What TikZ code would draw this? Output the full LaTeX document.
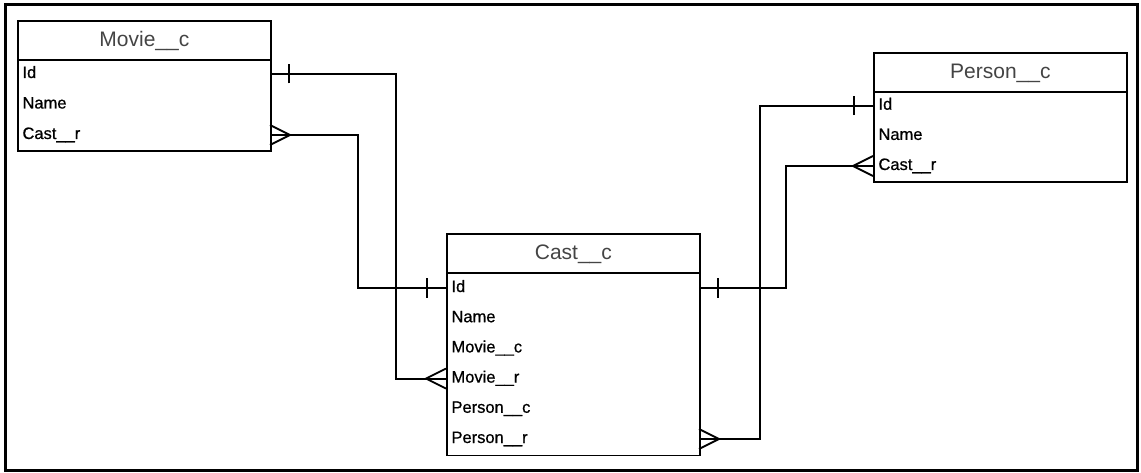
\documentclass[tikz,border=0pt]{standalone}
\usepackage{fontspec}
\setmainfont{Liberation Sans}
\newfontfamily\fieldfont[FakeBold=0.7]{Liberation Sans}
\usepackage{xcolor}
\definecolor{headgray}{HTML}{444444}

\begin{document}
\begin{tikzpicture}[x=1pt,y=-1pt,line width=1.8pt,
  tablehead/.style={draw,anchor=north west,minimum width=253pt,minimum height=39pt,inner sep=0pt,
    text height=15pt,text depth=4pt,font=\fontsize{21}{21}\selectfont,text=headgray},
  tablebody/.style={draw,anchor=north west,minimum width=253pt,inner sep=0pt},
  field/.style={anchor=west,inner xsep=5.5pt,inner ysep=0pt,outer sep=0pt,text width=242pt,align=left,
    text height=12pt,text depth=4pt,font=\fieldfont\fontsize{16.5}{16.5}\selectfont}]
\useasboundingbox (0,0) rectangle (1141,473);
\draw[line width=3pt] (5,5) rectangle (1137,470);
% tables: header + body
\node[tablehead] (movie) at (17,20.3){Movie\_\_c};
\node[tablebody,minimum height=91pt] (moviebody) at (17,59.3){};
\node[tablehead] (cast) at (446,233.5){Cast\_\_c};
\node[tablebody,minimum height=182pt] (castbody) at (446,272.5){};
\node[tablehead] (person) at (873,52.3){Person\_\_c};
\node[tablebody,minimum height=90pt] (personbody) at (873,91.3){};
% fields
\foreach \n/\y/\l in {movieId/74/Id,movieName/104.5/Name,movieCast/135/Cast\_\_r}{
  \node[field] (\n) at (17,\y){\l};}
\foreach \n/\y/\l in {castId/288/Id,castName/318.2/Name,castMoviec/348.4/Movie\_\_c,castMovier/378.6/Movie\_\_r,
  castPersonc/408.8/Person\_\_c,castPersonr/439/Person\_\_r}{
  \node[field] (\n) at (446,\y){\l};}
\foreach \n/\y/\l in {personId/105.7/Id,personName/135.9/Name,personCast/166/Cast\_\_r}{
  \node[field] (\n) at (873,\y){\l};}
% relations
\draw (movieId.east) -- ++(126,0) |- (castMovier.west);
\draw (movieCast.east) -- ++(88,0) |- (castId.west);
\draw (castId.east) -- ++(87,0) |- (personCast.west);
\draw (personId.west) -- ++(-113,0) |- (castPersonr.east);
% one ends
\foreach \n/\s in {movieId.east/1,castId.west/-1,castId.east/1,personId.west/-1}{
  \draw ([xshift=\s*19pt,yshift=-9.5pt]\n) -- ([xshift=\s*19pt,yshift=9.5pt]\n);}
% many ends
\foreach \n/\s in {movieCast.east/1,castMovier.west/-1,personCast.west/-1,castPersonr.east/1}{
  \draw ([yshift=10pt]\n) -- ([xshift=\s*20pt]\n) -- ([yshift=-10pt]\n);}
\end{tikzpicture}
\end{document}
